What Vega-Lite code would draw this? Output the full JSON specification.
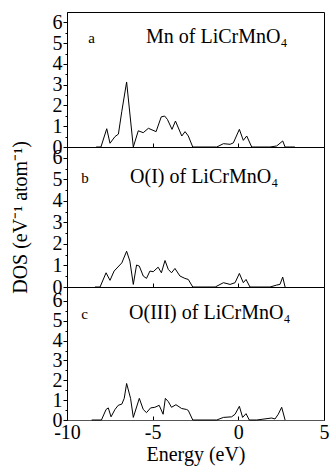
{
  "$schema": "https://vega.github.io/schema/vega-lite/v6.json",
  "padding": {"left": 9, "top": 11, "right": 5, "bottom": 3},
  "bounds": "flush",
  "spacing": 0,
  "config": {
    "font": "Liberation Serif",
    "view": {"stroke": "black", "strokeWidth": 1},
    "concat": {"spacing": 0},
    "axis": {"grid": false, "labelColor": "black", "titleColor": "black", "tickColor": "black", "domainColor": "black", "labelFlush": false, "titleFontWeight": "normal"}
  },
  "datasets": {
    "mn": [
      {"E": -8.3, "DOS": 0}, {"E": -8.02, "DOS": 0}, {"E": -7.68, "DOS": 0.88}, {"E": -7.49, "DOS": 0.18},
      {"E": -7.2, "DOS": 0.5}, {"E": -7.0, "DOS": 0.62}, {"E": -6.8, "DOS": 1.72}, {"E": -6.52, "DOS": 3.13},
      {"E": -6.13, "DOS": 0}, {"E": -5.84, "DOS": 0.78}, {"E": -5.55, "DOS": 0.69}, {"E": -5.25, "DOS": 0.9},
      {"E": -4.8, "DOS": 0.74}, {"E": -4.5, "DOS": 1.45}, {"E": -4.3, "DOS": 1.49}, {"E": -4.14, "DOS": 1.33},
      {"E": -3.87, "DOS": 0.85}, {"E": -3.67, "DOS": 1.25}, {"E": -3.3, "DOS": 0.53}, {"E": -3.11, "DOS": 0.74},
      {"E": -2.92, "DOS": 0.53}, {"E": -2.66, "DOS": 0}, {"E": -1.26, "DOS": 0}, {"E": -0.87, "DOS": 0.16},
      {"E": -0.48, "DOS": 0.13}, {"E": -0.29, "DOS": 0.2}, {"E": 0.06, "DOS": 0.85}, {"E": 0.29, "DOS": 0.32},
      {"E": 0.49, "DOS": 0.53}, {"E": 0.78, "DOS": 0}, {"E": 1.85, "DOS": 0}, {"E": 2.24, "DOS": 0.05},
      {"E": 2.59, "DOS": 0.29}, {"E": 2.73, "DOS": 0}, {"E": 3.3, "DOS": 0}
    ],
    "o1": [
      {"E": -8.37, "DOS": 0}, {"E": -8.07, "DOS": 0}, {"E": -7.72, "DOS": 0.66}, {"E": -7.49, "DOS": 0.31},
      {"E": -7.25, "DOS": 0.74}, {"E": -6.8, "DOS": 1.12}, {"E": -6.52, "DOS": 1.66}, {"E": -6.33, "DOS": 1.2},
      {"E": -6.13, "DOS": 0.12}, {"E": -5.94, "DOS": 1.02}, {"E": -5.78, "DOS": 0.97}, {"E": -5.55, "DOS": 0.51},
      {"E": -5.36, "DOS": 0.4}, {"E": -5.16, "DOS": 0.74}, {"E": -4.97, "DOS": 0.71}, {"E": -4.68, "DOS": 0.92},
      {"E": -4.49, "DOS": 0.66}, {"E": -4.28, "DOS": 1.23}, {"E": -4.09, "DOS": 0.82}, {"E": -3.9, "DOS": 0.66},
      {"E": -3.7, "DOS": 0.86}, {"E": -3.41, "DOS": 0.51}, {"E": -3.12, "DOS": 0.4}, {"E": -2.92, "DOS": 0.35},
      {"E": -2.66, "DOS": 0}, {"E": -1.35, "DOS": 0}, {"E": -0.87, "DOS": 0.2}, {"E": -0.48, "DOS": 0.12},
      {"E": -0.19, "DOS": 0.2}, {"E": 0.06, "DOS": 0.63}, {"E": 0.29, "DOS": 0.2}, {"E": 0.45, "DOS": 0.35},
      {"E": 0.68, "DOS": 0}, {"E": 1.85, "DOS": 0}, {"E": 2.24, "DOS": 0.09}, {"E": 2.43, "DOS": 0.12},
      {"E": 2.59, "DOS": 0.46}, {"E": 2.73, "DOS": 0}
    ],
    "o3": [
      {"E": -8.56, "DOS": 0}, {"E": -7.99, "DOS": 0}, {"E": -7.72, "DOS": 0.53}, {"E": -7.59, "DOS": 0.61},
      {"E": -7.43, "DOS": 0.16}, {"E": -7.2, "DOS": 0.53}, {"E": -7.01, "DOS": 0.74}, {"E": -6.8, "DOS": 0.8},
      {"E": -6.66, "DOS": 1.09}, {"E": -6.52, "DOS": 1.84}, {"E": -6.29, "DOS": 1.09}, {"E": -6.13, "DOS": 0.13},
      {"E": -5.78, "DOS": 1.09}, {"E": -5.55, "DOS": 0.53}, {"E": -5.36, "DOS": 0.37}, {"E": -5.12, "DOS": 0.61},
      {"E": -4.87, "DOS": 0.64}, {"E": -4.62, "DOS": 0.74}, {"E": -4.39, "DOS": 0.29}, {"E": -4.26, "DOS": 1.09},
      {"E": -4.09, "DOS": 0.93}, {"E": -3.9, "DOS": 0.64}, {"E": -3.64, "DOS": 0.77}, {"E": -3.31, "DOS": 0.58},
      {"E": -3.02, "DOS": 0.53}, {"E": -2.92, "DOS": 0.48}, {"E": -2.66, "DOS": 0}, {"E": -1.26, "DOS": 0},
      {"E": -0.87, "DOS": 0.13}, {"E": -0.39, "DOS": 0.16}, {"E": -0.19, "DOS": 0.29}, {"E": 0.06, "DOS": 0.69},
      {"E": 0.25, "DOS": 0.13}, {"E": 0.45, "DOS": 0.32}, {"E": 0.64, "DOS": 0}, {"E": 1.07, "DOS": 0},
      {"E": 1.95, "DOS": 0.1}, {"E": 2.14, "DOS": 0.05}, {"E": 2.33, "DOS": 0.29}, {"E": 2.53, "DOS": 0.64},
      {"E": 2.73, "DOS": 0}
    ]
  },
  "vconcat": [
    {
      "width": 257, "height": 135,
      "layer": [
        {
          "data": {"name": "mn"},
          "mark": {"type": "line", "color": "black", "strokeWidth": 1},
          "encoding": {
            "x": {"field": "E", "type": "quantitative", "scale": {"domain": [-10, 5], "nice": false}, "axis": {"values": [-5, 0], "labels": false, "tickSize": -4, "title": null, "domainColor": "#555"}},
            "y": {"field": "DOS", "type": "quantitative", "scale": {"domain": [0, 6.5], "nice": false}, "axis": {"values": [0, 0.5, 1, 1.5, 2, 2.5, 3, 3.5, 4, 4.5, 5, 5.5, 6], "tickCount": 20, "labelExpr": "datum.value % 1 === 0 ? '' + datum.value : ''", "labelOverlap": false, "tickSize": {"condition": {"test": "datum.value % 1 !== 0", "value": 2}, "value": 4}, "labelFontSize": 20, "labelPadding": 1, "title": null}}
          }
        },
        {
          "data": {"values": [{"E": -8.56, "DOS": 5.0, "t": "a"}]},
          "mark": {"type": "text", "fontSize": 15, "align": "center", "baseline": "alphabetic", "color": "black"},
          "encoding": {"x": {"field": "E", "type": "quantitative"}, "y": {"field": "DOS", "type": "quantitative"}, "text": {"field": "t"}}
        },
        {
          "data": {"values": [{"E": -5.39, "DOS": 5.0, "t": "Mn of LiCrMnO₄"}]},
          "mark": {"type": "text", "fontSize": 20, "align": "left", "baseline": "alphabetic", "color": "black"},
          "encoding": {"x": {"field": "E", "type": "quantitative"}, "y": {"field": "DOS", "type": "quantitative"}, "text": {"field": "t"}}
        }
      ]
    },
    {
      "width": 257, "height": 140,
      "layer": [
        {
          "data": {"name": "o1"},
          "mark": {"type": "line", "color": "black", "strokeWidth": 1},
          "encoding": {
            "x": {"field": "E", "type": "quantitative", "scale": {"domain": [-10, 5], "nice": false}, "axis": {"values": [-5, 0], "labels": false, "tickSize": -4, "title": null, "domainColor": "#555"}},
            "y": {"field": "DOS", "type": "quantitative", "scale": {"domain": [0, 6.5], "nice": false}, "axis": {"values": [0, 0.5, 1, 1.5, 2, 2.5, 3, 3.5, 4, 4.5, 5, 5.5, 6], "tickCount": 20, "labelExpr": "datum.value % 1 === 0 ? '' + datum.value : ''", "labelOverlap": false, "tickSize": {"condition": {"test": "datum.value % 1 !== 0", "value": 2}, "value": 4}, "labelFontSize": 20, "labelPadding": 1, "title": "DOS (eV⁻¹ atom⁻¹)", "titleFontSize": 20, "titlePadding": 22}}
          }
        },
        {
          "data": {"values": [{"E": -8.95, "DOS": 4.84, "t": "b"}]},
          "mark": {"type": "text", "fontSize": 15, "align": "center", "baseline": "alphabetic", "color": "black"},
          "encoding": {"x": {"field": "E", "type": "quantitative"}, "y": {"field": "DOS", "type": "quantitative"}, "text": {"field": "t"}}
        },
        {
          "data": {"values": [{"E": -6.32, "DOS": 4.84, "t": "O(I) of LiCrMnO₄"}]},
          "mark": {"type": "text", "fontSize": 20, "align": "left", "baseline": "alphabetic", "color": "black"},
          "encoding": {"x": {"field": "E", "type": "quantitative"}, "y": {"field": "DOS", "type": "quantitative"}, "text": {"field": "t"}}
        }
      ]
    },
    {
      "width": 257, "height": 133,
      "layer": [
        {
          "data": {"name": "o3"},
          "mark": {"type": "line", "color": "black", "strokeWidth": 1},
          "encoding": {
            "x": {"field": "E", "type": "quantitative", "scale": {"domain": [-10, 5], "nice": false}, "axis": {"values": [-10, -5, 0, 5], "labelExpr": "datum.value < 0 ? '-' + abs(datum.value) : '' + datum.value", "tickSize": -4, "labelFontSize": 20, "labelPadding": 6, "title": "Energy (eV)", "titleFontSize": 20, "titlePadding": 2, "domainColor": "#555"}},
            "y": {"field": "DOS", "type": "quantitative", "scale": {"domain": [0, 6.7], "nice": false}, "axis": {"values": [0, 0.5, 1, 1.5, 2, 2.5, 3, 3.5, 4, 4.5, 5, 5.5, 6], "tickCount": 20, "labelExpr": "datum.value % 1 === 0 ? '' + datum.value : ''", "labelOverlap": false, "tickSize": {"condition": {"test": "datum.value % 1 !== 0", "value": 2}, "value": 4}, "labelFontSize": 20, "labelPadding": 1, "title": null}}
          }
        },
        {
          "data": {"values": [{"E": -8.98, "DOS": 5.08, "t": "c"}]},
          "mark": {"type": "text", "fontSize": 15, "align": "center", "baseline": "alphabetic", "color": "black"},
          "encoding": {"x": {"field": "E", "type": "quantitative"}, "y": {"field": "DOS", "type": "quantitative"}, "text": {"field": "t"}}
        },
        {
          "data": {"values": [{"E": -6.38, "DOS": 5.08, "t": "O(III) of LiCrMnO₄"}]},
          "mark": {"type": "text", "fontSize": 20, "align": "left", "baseline": "alphabetic", "color": "black"},
          "encoding": {"x": {"field": "E", "type": "quantitative"}, "y": {"field": "DOS", "type": "quantitative"}, "text": {"field": "t"}}
        }
      ]
    }
  ]
}
